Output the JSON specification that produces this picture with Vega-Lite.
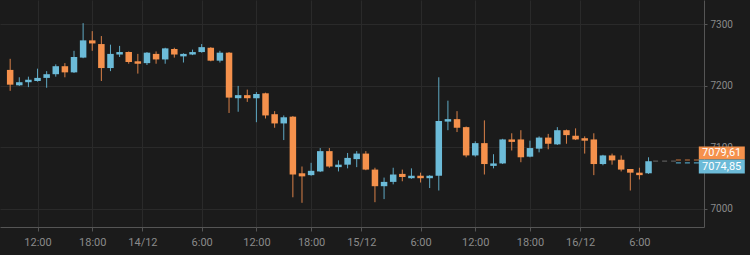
{
  "$schema": "https://vega.github.io/schema/vega-lite/v6.json",
  "width": 704,
  "height": 227,
  "autosize": "none",
  "padding": {"left": 0, "top": 0, "right": 46, "bottom": 28},
  "background": "#1b1b1b",
  "config": {
    "view": {"stroke": null},
    "font": "Roboto",
    "axis": {"gridColor": "#2a2a2a", "domainColor": "#555555", "tickColor": "#555555", "labelColor": "#8a8a8a", "title": null, "labelFont": "Roboto"}
  },
  "datasets": {
    "candles": [
      {"t": "2019-12-13T09:00Z", "o": 7226, "h": 7244, "l": 7192, "c": 7202},
      {"t": "2019-12-13T10:00Z", "o": 7201, "h": 7214, "l": 7200, "c": 7206},
      {"t": "2019-12-13T11:00Z", "o": 7206, "h": 7215, "l": 7198, "c": 7210},
      {"t": "2019-12-13T12:00Z", "o": 7208, "h": 7228, "l": 7207, "c": 7213},
      {"t": "2019-12-13T13:00Z", "o": 7213, "h": 7224, "l": 7197, "c": 7219},
      {"t": "2019-12-13T14:00Z", "o": 7219, "h": 7235, "l": 7215, "c": 7232},
      {"t": "2019-12-13T15:00Z", "o": 7232, "h": 7237, "l": 7214, "c": 7222},
      {"t": "2019-12-13T16:00Z", "o": 7222, "h": 7257, "l": 7221, "c": 7247},
      {"t": "2019-12-13T17:00Z", "o": 7246, "h": 7302, "l": 7245, "c": 7274},
      {"t": "2019-12-13T18:00Z", "o": 7274, "h": 7289, "l": 7257, "c": 7269},
      {"t": "2019-12-13T19:00Z", "o": 7268, "h": 7281, "l": 7208, "c": 7229},
      {"t": "2019-12-13T20:00Z", "o": 7229, "h": 7267, "l": 7224, "c": 7252},
      {"t": "2019-12-13T21:00Z", "o": 7251, "h": 7265, "l": 7247, "c": 7255},
      {"t": "2019-12-13T22:00Z", "o": 7255, "h": 7256, "l": 7236, "c": 7239},
      {"t": "2019-12-13T23:00Z", "o": 7240, "h": 7252, "l": 7220, "c": 7236},
      {"t": "2019-12-14T00:00Z", "o": 7237, "h": 7255, "l": 7234, "c": 7254},
      {"t": "2019-12-14T01:00Z", "o": 7252, "h": 7256, "l": 7236, "c": 7243},
      {"t": "2019-12-14T02:00Z", "o": 7243, "h": 7262, "l": 7236, "c": 7261},
      {"t": "2019-12-14T03:00Z", "o": 7260, "h": 7262, "l": 7246, "c": 7251},
      {"t": "2019-12-14T04:00Z", "o": 7248, "h": 7253, "l": 7238, "c": 7252},
      {"t": "2019-12-14T05:00Z", "o": 7251, "h": 7259, "l": 7250, "c": 7255},
      {"t": "2019-12-14T06:00Z", "o": 7255, "h": 7268, "l": 7254, "c": 7263},
      {"t": "2019-12-14T07:00Z", "o": 7262, "h": 7263, "l": 7240, "c": 7241},
      {"t": "2019-12-14T08:00Z", "o": 7241, "h": 7257, "l": 7238, "c": 7254},
      {"t": "2019-12-14T09:00Z", "o": 7254, "h": 7255, "l": 7156, "c": 7181},
      {"t": "2019-12-14T10:00Z", "o": 7180, "h": 7200, "l": 7158, "c": 7185},
      {"t": "2019-12-14T11:00Z", "o": 7185, "h": 7194, "l": 7174, "c": 7180},
      {"t": "2019-12-14T12:00Z", "o": 7180, "h": 7190, "l": 7141, "c": 7187},
      {"t": "2019-12-14T13:00Z", "o": 7188, "h": 7189, "l": 7147, "c": 7152},
      {"t": "2019-12-14T14:00Z", "o": 7154, "h": 7159, "l": 7132, "c": 7139},
      {"t": "2019-12-14T15:00Z", "o": 7139, "h": 7152, "l": 7112, "c": 7149},
      {"t": "2019-12-14T16:00Z", "o": 7150, "h": 7151, "l": 7019, "c": 7056},
      {"t": "2019-12-14T17:00Z", "o": 7058, "h": 7069, "l": 7010, "c": 7053},
      {"t": "2019-12-14T18:00Z", "o": 7055, "h": 7075, "l": 7054, "c": 7062},
      {"t": "2019-12-14T19:00Z", "o": 7061, "h": 7099, "l": 7060, "c": 7094},
      {"t": "2019-12-14T20:00Z", "o": 7094, "h": 7099, "l": 7067, "c": 7069},
      {"t": "2019-12-14T21:00Z", "o": 7068, "h": 7079, "l": 7061, "c": 7072},
      {"t": "2019-12-14T22:00Z", "o": 7072, "h": 7091, "l": 7066, "c": 7083},
      {"t": "2019-12-14T23:00Z", "o": 7081, "h": 7094, "l": 7068, "c": 7090},
      {"t": "2019-12-15T00:00Z", "o": 7090, "h": 7094, "l": 7063, "c": 7064},
      {"t": "2019-12-15T01:00Z", "o": 7064, "h": 7067, "l": 7011, "c": 7037},
      {"t": "2019-12-15T02:00Z", "o": 7037, "h": 7051, "l": 7016, "c": 7044},
      {"t": "2019-12-15T03:00Z", "o": 7044, "h": 7067, "l": 7040, "c": 7056},
      {"t": "2019-12-15T04:00Z", "o": 7057, "h": 7064, "l": 7045, "c": 7052},
      {"t": "2019-12-15T05:00Z", "o": 7050, "h": 7066, "l": 7049, "c": 7054},
      {"t": "2019-12-15T06:00Z", "o": 7054, "h": 7059, "l": 7043, "c": 7050},
      {"t": "2019-12-15T07:00Z", "o": 7050, "h": 7055, "l": 7034, "c": 7054},
      {"t": "2019-12-15T08:00Z", "o": 7054, "h": 7214, "l": 7030, "c": 7143},
      {"t": "2019-12-15T09:00Z", "o": 7142, "h": 7176, "l": 7128, "c": 7146},
      {"t": "2019-12-15T10:00Z", "o": 7146, "h": 7159, "l": 7125, "c": 7132},
      {"t": "2019-12-15T11:00Z", "o": 7133, "h": 7134, "l": 7084, "c": 7087},
      {"t": "2019-12-15T12:00Z", "o": 7087, "h": 7110, "l": 7085, "c": 7107},
      {"t": "2019-12-15T13:00Z", "o": 7107, "h": 7144, "l": 7056, "c": 7073},
      {"t": "2019-12-15T14:00Z", "o": 7070, "h": 7089, "l": 7066, "c": 7074},
      {"t": "2019-12-15T15:00Z", "o": 7074, "h": 7114, "l": 7073, "c": 7113},
      {"t": "2019-12-15T16:00Z", "o": 7113, "h": 7123, "l": 7095, "c": 7109},
      {"t": "2019-12-15T17:00Z", "o": 7113, "h": 7128, "l": 7076, "c": 7084},
      {"t": "2019-12-15T18:00Z", "o": 7085, "h": 7111, "l": 7084, "c": 7099},
      {"t": "2019-12-15T19:00Z", "o": 7098, "h": 7118, "l": 7092, "c": 7116},
      {"t": "2019-12-15T20:00Z", "o": 7116, "h": 7122, "l": 7097, "c": 7106},
      {"t": "2019-12-15T21:00Z", "o": 7105, "h": 7133, "l": 7104, "c": 7128},
      {"t": "2019-12-15T22:00Z", "o": 7128, "h": 7129, "l": 7106, "c": 7120},
      {"t": "2019-12-15T23:00Z", "o": 7119, "h": 7131, "l": 7112, "c": 7113},
      {"t": "2019-12-16T00:00Z", "o": 7115, "h": 7118, "l": 7090, "c": 7111},
      {"t": "2019-12-16T01:00Z", "o": 7113, "h": 7123, "l": 7055, "c": 7073},
      {"t": "2019-12-16T02:00Z", "o": 7073, "h": 7088, "l": 7071, "c": 7087},
      {"t": "2019-12-16T03:00Z", "o": 7087, "h": 7090, "l": 7072, "c": 7079},
      {"t": "2019-12-16T04:00Z", "o": 7080, "h": 7087, "l": 7061, "c": 7064},
      {"t": "2019-12-16T05:00Z", "o": 7065, "h": 7065, "l": 7030, "c": 7059},
      {"t": "2019-12-16T06:00Z", "o": 7059, "h": 7067, "l": 7048, "c": 7055},
      {"t": "2019-12-16T07:00Z", "o": 7058, "h": 7084, "l": 7057, "c": 7077.6}
    ],
    "quotes": [
      {"side": "ask", "price": 7079.61, "label": "7079,61"},
      {"side": "bid", "price": 7074.85, "label": "7074,85"}
    ],
    "last": [{"price": 7077.6}]
  },
  "layer": [
    {
      "data": {"name": "candles"},
      "mark": {"type": "rule", "strokeWidth": 1},
      "encoding": {
        "x": {
          "field": "t", "type": "temporal",
          "scale": {"type": "utc", "domain": [
            {"year": 2019, "month": 12, "date": 13, "hours": 8, "minutes": 26, "utc": true},
            {"year": 2019, "month": 12, "date": 16, "hours": 12, "minutes": 32, "utc": true}
          ]},
          "axis": {
            "values": [
              {"year": 2019, "month": 12, "date": 13, "hours": 12, "utc": true},
              {"year": 2019, "month": 12, "date": 13, "hours": 18, "utc": true},
              {"year": 2019, "month": 12, "date": 13, "hours": 23, "minutes": 30, "utc": true},
              {"year": 2019, "month": 12, "date": 14, "hours": 6, "utc": true},
              {"year": 2019, "month": 12, "date": 14, "hours": 12, "utc": true},
              {"year": 2019, "month": 12, "date": 14, "hours": 18, "utc": true},
              {"year": 2019, "month": 12, "date": 14, "hours": 23, "minutes": 30, "utc": true},
              {"year": 2019, "month": 12, "date": 15, "hours": 6, "utc": true},
              {"year": 2019, "month": 12, "date": 15, "hours": 12, "utc": true},
              {"year": 2019, "month": 12, "date": 15, "hours": 18, "utc": true},
              {"year": 2019, "month": 12, "date": 15, "hours": 23, "minutes": 30, "utc": true},
              {"year": 2019, "month": 12, "date": 16, "hours": 6, "utc": true}
            ],
            "labelExpr": "utcminutes(datum.value) == 30 ? utcFormat(datum.value + 1800000, '%d/%m') : utcFormat(datum.value, '%-H:%M')",
            "grid": true, "tickSize": 4, "labelFontSize": 11, "labelPadding": 5, "labelFlush": false, "labelOverlap": false
          }
        },
        "y": {
          "field": "l", "type": "quantitative",
          "scale": {"domain": [6970.7, 7339.6], "nice": false, "zero": false},
          "axis": {"orient": "right", "values": [7000, 7050, 7100, 7150, 7200, 7250, 7300], "format": "d", "grid": true, "tickSize": 3, "labelPadding": 3, "labelFontSize": 10}
        },
        "y2": {"field": "h"},
        "color": {"condition": {"test": "datum.c >= datum.o", "value": "#5fa9c4"}, "value": "#d98048"}
      }
    },
    {
      "data": {"name": "candles"},
      "mark": {"type": "bar", "width": 6.5},
      "encoding": {
        "x": {"field": "t", "type": "temporal"},
        "y": {"field": "o", "type": "quantitative"},
        "y2": {"field": "c"},
        "color": {"condition": {"test": "datum.c >= datum.o", "value": "#6cbbd8"}, "value": "#f5914c"}
      }
    },
    {
      "data": {"name": "last"},
      "mark": {"type": "rule", "strokeDash": [5, 4], "strokeWidth": 1.2, "color": "#5a5a5a"},
      "encoding": {
        "x": {"datum": {"year": 2019, "month": 12, "date": 16, "hours": 7, "minutes": 30, "utc": true}, "type": "temporal"},
        "x2": {"datum": {"year": 2019, "month": 12, "date": 16, "hours": 10, "utc": true}},
        "y": {"field": "price", "type": "quantitative"}
      }
    },
    {
      "data": {"name": "quotes"},
      "mark": {"type": "rule", "strokeDash": [5, 4], "strokeWidth": 1.2},
      "encoding": {
        "x": {"datum": {"year": 2019, "month": 12, "date": 16, "hours": 10, "utc": true}, "type": "temporal"},
        "x2": {"datum": {"year": 2019, "month": 12, "date": 16, "hours": 12, "minutes": 32, "utc": true}},
        "y": {"field": "price", "type": "quantitative"},
        "color": {"condition": {"test": "datum.side == 'ask'", "value": "#c9773f"}, "value": "#4f9ab8"}
      }
    },
    {
      "data": {"name": "quotes"},
      "transform": [{"filter": "datum.side == 'ask'"}],
      "mark": {"type": "tick", "orient": "vertical", "thickness": 46, "size": 13, "yOffset": -7, "color": "#f5914c", "opacity": 1, "clip": false},
      "encoding": {
        "x": {"datum": {"year": 2019, "month": 12, "date": 16, "hours": 15, "minutes": 2, "utc": true}, "type": "temporal"},
        "y": {"field": "price", "type": "quantitative"}
      }
    },
    {
      "data": {"name": "quotes"},
      "transform": [{"filter": "datum.side == 'bid'"}],
      "mark": {"type": "tick", "orient": "vertical", "thickness": 46, "size": 14, "yOffset": 3.6, "color": "#6cbbd8", "opacity": 1, "clip": false},
      "encoding": {
        "x": {"datum": {"year": 2019, "month": 12, "date": 16, "hours": 15, "minutes": 2, "utc": true}, "type": "temporal"},
        "y": {"field": "price", "type": "quantitative"}
      }
    },
    {
      "data": {"name": "quotes"},
      "transform": [{"filter": "datum.side == 'ask'"}],
      "mark": {"type": "text", "align": "left", "baseline": "middle", "fontSize": 11, "color": "#ffffff", "yOffset": -7, "clip": false},
      "encoding": {
        "x": {"datum": {"year": 2019, "month": 12, "date": 16, "hours": 12, "minutes": 52, "utc": true}, "type": "temporal"},
        "y": {"field": "price", "type": "quantitative"},
        "text": {"field": "label"}
      }
    },
    {
      "data": {"name": "quotes"},
      "transform": [{"filter": "datum.side == 'bid'"}],
      "mark": {"type": "text", "align": "left", "baseline": "middle", "fontSize": 11, "color": "#ffffff", "yOffset": 3.6, "clip": false},
      "encoding": {
        "x": {"datum": {"year": 2019, "month": 12, "date": 16, "hours": 12, "minutes": 52, "utc": true}, "type": "temporal"},
        "y": {"field": "price", "type": "quantitative"},
        "text": {"field": "label"}
      }
    }
  ]
}
